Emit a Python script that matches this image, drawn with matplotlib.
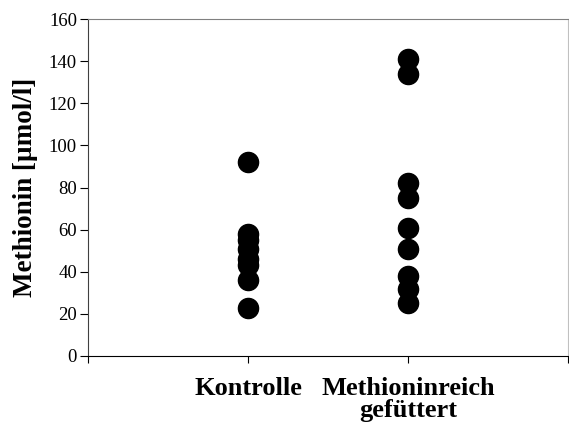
import matplotlib
matplotlib.use('Agg')
import matplotlib.pyplot as plt

groups = ['Kontrolle', 'Methioninreich\ngefüttert']
kontrolle = [92, 58, 55, 51, 46, 43, 36, 23]
methionin = [141, 134, 82, 75, 61, 51, 38, 32, 25]

plt.rcParams['font.family'] = ['Liberation Serif', 'DejaVu Serif']

fig = plt.figure(figsize=(5.69, 4.24), dpi=100)
ax = fig.add_axes([0.1547, 0.1604, 0.8443, 0.7946])

ax.plot([1] * len(kontrolle), kontrolle, 'o', color='black', markersize=14.5, linestyle='none')
ax.plot([2] * len(methionin), methionin, 'o', color='black', markersize=14.5, linestyle='none')

ax.set_xlim(0, 3)
ax.set_ylim(0, 160)
ax.set_yticks(range(0, 161, 20))
ax.set_xticks([0, 1, 2, 3])
ax.set_xticklabels([''] + groups + [''], fontsize=19, fontweight='bold', linespacing=0.95)
ax.tick_params(axis='y', direction='out', length=6, labelsize=13.5, pad=2)
ax.tick_params(axis='x', direction='out', length=5, pad=10)

ax.set_ylabel('Methionin [µmol/l]', fontsize=19.5, fontweight='bold', labelpad=8)

ax.spines['bottom'].set_color('black')
ax.spines['left'].set_color('#404040')
ax.spines['top'].set_color('#808080')
ax.spines['right'].set_color('#c0c0c0')

fig.savefig('out.png', dpi=100)
